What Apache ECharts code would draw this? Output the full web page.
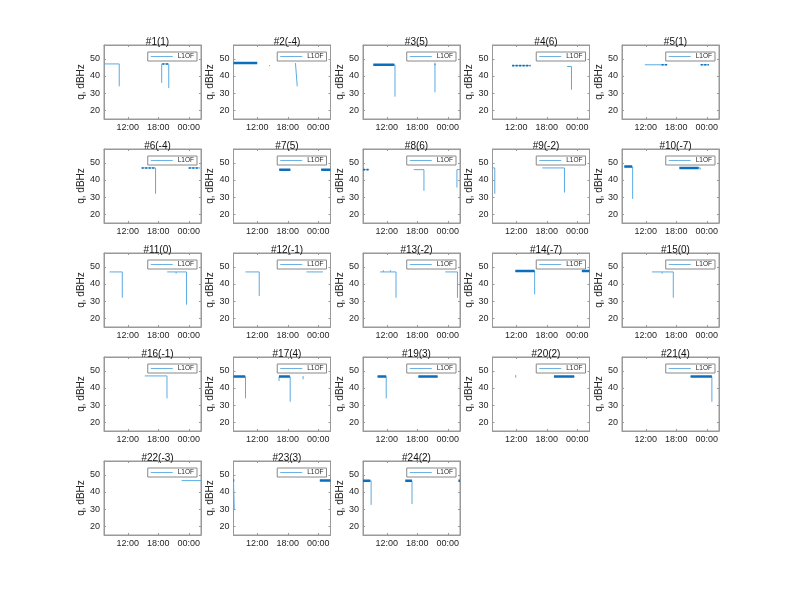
<!DOCTYPE html>
<html>
<head>
<meta charset="utf-8">
<script src="https://cdn.jsdelivr.net/npm/echarts@6/dist/echarts.min.js"></script>
<style>
  html, body { margin: 0; padding: 0; background: #fff; }
  #main { width: 796px; height: 600px; }
</style>
</head>
<body>
<div id="main"></div>
<script>
// subplot titles (satellite number and frequency channel)
const titles = ["#1(1)", "#2(-4)", "#3(5)", "#4(6)", "#5(1)",
  "#6(-4)", "#7(5)", "#8(6)", "#9(-2)", "#10(-7)",
  "#11(0)", "#12(-1)", "#13(-2)", "#14(-7)", "#15(0)",
  "#16(-1)", "#17(4)", "#19(3)", "#20(2)", "#21(4)",
  "#22(-3)", "#23(3)", "#24(2)"];

// x axis in hours since 00:00 of the first day
const tickHours = [12, 18, 24];
const tickLabels = ["12:00", "18:00", "00:00"];
const yTicks = [20, 30, 40, 50];

// q, dBHz tracks: list of segments, each segment a list of [hour, q]
const sat1 = [[[7.3, 47], [10.3, 47], [10.3, 34]], [[18.66, 36], [18.66, 47], [20.05, 47], [20.05, 33]]];
const sat2 = [[[7.3, 47.5], [11.97, 47.5]], [[14.3, 46], [14.5, 46]], [[19.5, 47.5], [19.85, 47.5], [19.85, 34]]];
const sat3 = [[[9.33, 46.5], [13.6, 46.5], [13.6, 28]], [[21.47, 47], [21.47, 30.5]]];
const sat4 = [[[11.17, 46], [14.78, 46]], [[22.0, 45.5], [22.85, 45.5], [22.85, 32]]];
const sat5 = [[[11.8, 46.5], [16.2, 46.5]], [[22.8, 46.5], [24.4, 46.5]]];
const sat6 = [[[14.72, 47], [17.45, 47], [17.45, 32]], [[23.9, 47], [26.2, 47]]];
const sat7 = [[[16.3, 46], [18.5, 46]], [[24.56, 46], [26.4, 46]]];
const sat8 = [[[7.3, 46], [8.5, 46]], [[17.3, 46], [19.3, 46], [19.3, 33.7]], [[25.8, 35.6], [25.8, 46], [26.4, 46]]];
const sat9 = [[[7.3, 47], [7.75, 47], [7.75, 32]], [[17.08, 47], [21.47, 47], [21.47, 32.7]]];
const sat10 = [[[7.75, 47.6], [9.4, 47.6], [9.4, 29]], [[18.6, 47], [22.7, 47], [22.7, 46]]];
const sat11 = [[[8.4, 47], [10.9, 47], [10.9, 32]], [[19.74, 47], [23.54, 47], [23.54, 28]], [[21.5, 47], [21.5, 46]]];
const sat12 = [[[9.66, 47], [12.37, 47], [12.37, 33]], [[21.67, 47], [24.9, 47]]];
const sat13 = [[[10.68, 47], [13.8, 47], [13.8, 32]], [[23.5, 47], [25.9, 47], [25.9, 32]], [[11.3, 47], [11.3, 48]], [[12.7, 47], [12.7, 48]]];
const sat14 = [[[11.8, 47.5], [15.6, 47.5], [15.6, 34]], [[24.9, 47.5], [26.4, 47.5]]];
const sat15 = [[[13.2, 47], [17.4, 47], [17.4, 32]], [[15.2, 47], [15.2, 46]]];
const sat16 = [[[15.33, 47], [19.7, 47], [19.7, 34]]];
const sat17 = [[[7.3, 46.6], [9.66, 46.6], [9.66, 34]], [[16.26, 44], [16.26, 46.6], [18.46, 46.6], [18.46, 32]], [[21.0, 47], [21.0, 45]]];
const sat19 = [[[10.17, 46.6], [11.87, 46.6], [11.87, 34]], [[18.2, 46.6], [22.0, 46.6]]];
const sat20 = [[[11.87, 47.5], [11.87, 46]], [[19.4, 46.6], [23.4, 46.6]]];
const sat21 = [[[20.8, 46.6], [25.0, 46.6], [25.0, 32]]];
const sat22 = [[[22.6, 46.6], [26.4, 46.6]]];
const sat23 = [[[7.3, 46.6], [7.45, 46.6], [7.45, 29.6]], [[24.3, 46.6], [26.4, 46.6]]];
const sat24 = [[[7.3, 46.5], [8.9, 46.5], [8.9, 32.5]], [[15.63, 46.5], [16.95, 46.5], [16.95, 33]], [[26.1, 46.5], [26.4, 46.5]]];

// dense (noisy, many samples) stretches drawn darker
const dense1 = [[[18.8, 47], [19.9, 47]]];
const dense2 = [[[7.3, 47.5], [11.97, 47.5]]];
const dense3 = [[[9.33, 46.5], [13.46, 46.5]], [[21.4, 47], [21.55, 47]]];
const dense4 = [[[11.17, 46], [14.78, 46]]];
const dense5 = [[[15.1, 46.5], [16.2, 46.5]], [[22.8, 46.5], [24.4, 46.5]]];
const dense6 = [[[14.72, 47], [17.34, 47]], [[24.0, 47], [25.8, 47]]];
const dense7 = [[[16.3, 46], [18.5, 46]], [[24.56, 46], [26.4, 46]]];
const dense8 = [[[7.3, 46], [8.4, 46]]];
const dense9 = [];
const dense10 = [[[7.75, 47.8], [9.3, 47.8]], [[18.6, 47], [22.4, 47]]];
const dense11 = [];
const dense12 = [];
const dense13 = [];
const dense14 = [[[11.8, 47.5], [15.6, 47.5]], [[24.9, 47.5], [26.4, 47.5]]];
const dense15 = [];
const dense16 = [];
const dense17 = [[[7.3, 46.6], [9.6, 46.6]], [[16.26, 46.6], [18.4, 46.6]]];
const dense19 = [[[10.17, 46.6], [11.87, 46.6]], [[18.2, 46.6], [22.0, 46.6]]];
const dense20 = [[[19.4, 46.6], [23.4, 46.6]]];
const dense21 = [[[20.8, 46.6], [25.0, 46.6]]];
const dense22 = [];
const dense23 = [[[24.3, 46.6], [26.4, 46.6]], [[7.3, 46.6], [7.45, 46.6]]];
const dense24 = [[[7.3, 46.5], [8.74, 46.5]], [[15.63, 46.5], [16.95, 46.5]], [[26.1, 46.5], [26.4, 46.5]]];

const tracks = [sat1, sat2, sat3, sat4, sat5, sat6, sat7, sat8, sat9, sat10, sat11, sat12,
  sat13, sat14, sat15, sat16, sat17, sat19, sat20, sat21, sat22, sat23, sat24];
const denseTracks = [dense1, dense2, dense3, dense4, dense5, dense6, dense7, dense8, dense9, dense10, dense11, dense12,
  dense13, dense14, dense15, dense16, dense17, dense19, dense20, dense21, dense22, dense23, dense24];
// subplots whose dense parts look dotted rather than solid thick
const dottedDense = ["#1(1)", "#4(6)", "#5(1)", "#6(-4)", "#8(6)"];

// layout of the 5x5 subplot grid
const colLeft = [104, 233.5, 363, 492.5, 622];
const rowTop = [45, 149, 253, 357, 461];
const W = 97, H = 74;
const FONT = "Liberation Sans";
const BOX = "#999";
const TXT = "#262626";
const LIGHT = "#5aaae2";
const DARK = "#0b6fbd";

function flatten(segs) {
  const out = [];
  segs.forEach((s, k) => {
    if (k > 0) out.push(["-", "-"]);
    s.forEach(p => out.push(p));
  });
  return out;
}

const grid = [], xAxis = [], yAxis = [], title = [], legend = [], series = [];

titles.forEach((t, i) => {
  const r = Math.floor(i / 5), c = i % 5;
  const left = colLeft[c], top = rowTop[r];
  grid.push({ left: left, top: top, width: W, height: H, show: true, borderColor: BOX, borderWidth: 1, backgroundColor: "#fff" });
  title.push({
    text: t, left: left + W / 2, top: top - 13, textAlign: "center",
    textStyle: { fontFamily: FONT, fontSize: 10, fontWeight: "normal", color: "#111" }
  });
  legend.push({
    data: ["L1OF"], right: 796 - (left + W) + 4, top: top + 7,
    orient: "horizontal", padding: [1, 3, 1, 3], icon: "rect", itemWidth: 22, itemHeight: 1, itemGap: 2,
    borderColor: "#888", borderWidth: 1, borderRadius: 0, backgroundColor: "#fff",
    selectedMode: false,
    itemStyle: { color: "#6cb3e4" },
    textStyle: { fontFamily: FONT, fontSize: 6.5, color: TXT, padding: [0, 0, 0, 0] }
  });
  // bottom and top x axes
  xAxis.push({
    type: "value", gridIndex: i, min: 7.3, max: 26.4, position: "bottom",
    axisLine: { show: true, onZero: false, lineStyle: { color: BOX, width: 1 } },
    axisTick: { show: true, inside: true, length: 2, lineStyle: { color: BOX }, customValues: tickHours },
    axisLabel: {
      customValues: tickHours, margin: 4, fontFamily: FONT, fontSize: 9, color: TXT,
      formatter: v => tickLabels[tickHours.indexOf(v)]
    },
    splitLine: { show: false }
  });
  xAxis.push({
    type: "value", gridIndex: i, min: 7.3, max: 26.4, position: "top",
    axisLine: { show: true, onZero: false, lineStyle: { color: BOX, width: 1 } },
    axisTick: { show: true, inside: true, length: 2, lineStyle: { color: BOX }, customValues: tickHours },
    axisLabel: { show: false }, splitLine: { show: false }
  });
  yAxis.push({
    type: "value", gridIndex: i, min: 15, max: 58, position: "left",
    name: "q, dBHz", nameLocation: "middle", nameGap: 16,
    nameTextStyle: { fontFamily: FONT, fontSize: 10, color: TXT },
    axisLine: { show: true, onZero: false, lineStyle: { color: BOX, width: 1 } },
    axisTick: { show: true, inside: true, length: 2, lineStyle: { color: BOX }, customValues: yTicks },
    axisLabel: { customValues: yTicks, margin: 4, fontFamily: FONT, fontSize: 9, color: TXT },
    splitLine: { show: false }
  });
  yAxis.push({
    type: "value", gridIndex: i, min: 15, max: 58, position: "right",
    axisLine: { show: true, onZero: false, lineStyle: { color: BOX, width: 1 } },
    axisTick: { show: true, inside: true, length: 2, lineStyle: { color: BOX }, customValues: yTicks },
    axisLabel: { show: false }, splitLine: { show: false }
  });
  series.push({
    name: "L1OF", type: "line", xAxisIndex: 2 * i, yAxisIndex: 2 * i,
    data: flatten(tracks[i]), symbol: "none", connectNulls: false, animation: false,
    lineStyle: { color: LIGHT, width: 1 }, itemStyle: { color: LIGHT }
  });
  if (denseTracks[i].length) {
    const dotted = dottedDense.indexOf(t) >= 0;
    series.push({
      name: "L1OF", type: "line", xAxisIndex: 2 * i, yAxisIndex: 2 * i,
      data: flatten(denseTracks[i]), symbol: "none", connectNulls: false, animation: false,
      lineStyle: dotted ? { color: DARK, width: 1.6, type: [2, 1.5] } : { color: DARK, width: 2.5 },
      itemStyle: { color: DARK }
    });
  }
});

const chart = echarts.init(document.getElementById("main"));
chart.setOption({
  backgroundColor: "#fff",
  animation: false,
  title: title,
  legend: legend,
  grid: grid,
  xAxis: xAxis,
  yAxis: yAxis,
  series: series
});
window.onresize = function () {
  chart.resize();
};
</script>
</body>
</html>
